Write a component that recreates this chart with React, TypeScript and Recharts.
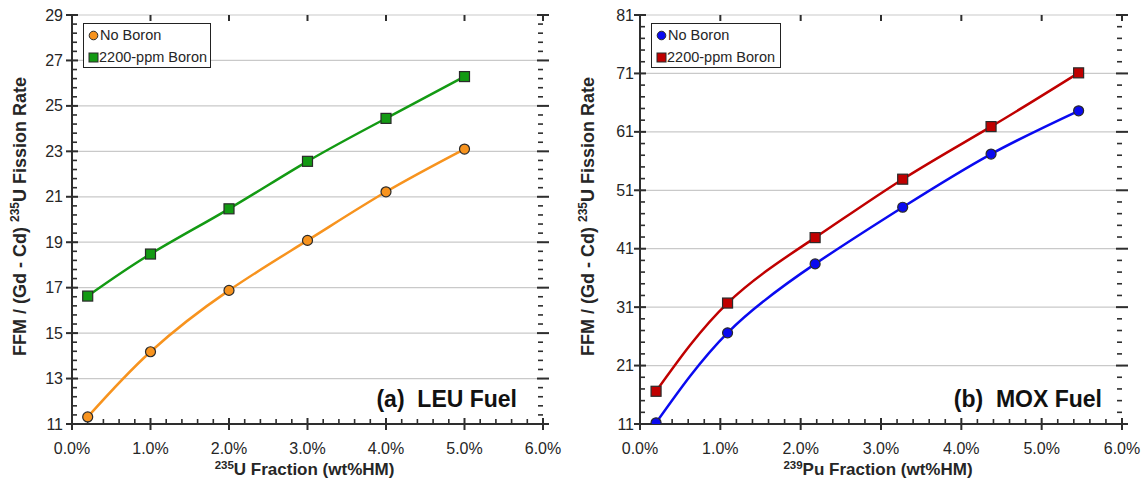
import React from 'react';
import { ComposedChart, Line, XAxis, YAxis, CartesianGrid, Legend, ReferenceDot } from 'recharts';

// ---------- data ----------
const leuX = [0.2, 1.0, 2.0, 3.0, 4.0, 5.0];
const leuNoBoron = [11.31, 14.18, 16.88, 19.08, 21.22, 23.1];
const leuBoron = [16.63, 18.48, 20.47, 22.56, 24.45, 26.29];

const moxX = [0.2, 1.09, 2.18, 3.27, 4.37, 5.46];
const moxNoBoron = [11.2, 26.6, 38.4, 48.1, 57.2, 64.6];
const moxBoron = [16.6, 31.7, 42.9, 52.9, 61.9, 71.1];

const xMajorTicks = [0, 1, 2, 3, 4, 5, 6];
const leuYMajorTicks = [11, 13, 15, 17, 19, 21, 23, 25, 27, 29];
const moxYMajorTicks = [11, 21, 31, 41, 51, 61, 71, 81];

const seriesNames = ['No Boron', '2200-ppm Boron'];

// ---------- style ----------
const FONT = '"Liberation Sans", Arial, Helvetica, sans-serif';
const AXIS = '#2e2e2e';
const TEXT = '#262626';
const GRID = '#c9c9c9';

const leuColors = { a: '#f7931e', b: '#139a13' };
const moxColors = { a: '#0a0af0', b: '#c00000' };

const withMinor = (major: number[], parts: number) => {
  const out: number[] = [];
  for (let i = 0; i < major.length - 1; i++) {
    const step = (major[i + 1] - major[i]) / parts;
    for (let k = 0; k < parts; k++) out.push(Math.round((major[i] + step * k) * 1000) / 1000);
  }
  out.push(major[major.length - 1]);
  return out;
};

const isIn = (v: number, arr: number[]) => arr.some((m) => Math.abs(m - v) < 1e-6);

const makeRows = (xs: number[], a: number[], b: number[]) =>
  xs.map((x, i) => ({ x, a: a[i], b: b[i] }));

const leuData = makeRows(leuX, leuNoBoron, leuBoron);
const moxData = makeRows(moxX, moxNoBoron, moxBoron);

const MAJ_W = 2;
const MIN_W = 1.6;

// ---------- tick labels (axis ticks) ----------
const bottomTick = (props: any) => {
  const x = Number(props.x);
  const y = Number(props.y);
  const v = props.payload.value;
  if (!isIn(v, xMajorTicks)) return <g key={`bt${props.index}`} />;
  return (
    <g key={`bt${props.index}`}>
      <text x={x} y={y + 30} textAnchor="middle" fontFamily={FONT} fontSize={16} fill={TEXT}>
        {`${v.toFixed(1)}%`}
      </text>
    </g>
  );
};

const makeLeftTick = (major: number[], gap: number) => (props: any) => {
  const x = Number(props.x);
  const y = Number(props.y);
  const v = props.payload.value;
  if (!isIn(v, major)) return <g key={`lt${props.index}`} />;
  return (
    <g key={`lt${props.index}`}>
      <text x={x - gap} y={y + 5.5} textAnchor="end" fontFamily={FONT} fontSize={16} fill={TEXT}>
        {String(v)}
      </text>
    </g>
  );
};

// ---------- tick marks (reference dots placed by the chart scales) ----------
const bottomMark = (major: boolean) => (s: any) =>
  major ? (
    <rect x={s.cx - MAJ_W / 2} y={s.cy - 6} width={MAJ_W} height={12} fill={AXIS} />
  ) : (
    <rect x={s.cx - MIN_W / 2} y={s.cy - 5} width={MIN_W} height={5} fill={AXIS} />
  );
const topMark = () => (s: any) => <rect x={s.cx - MAJ_W / 2} y={s.cy} width={MAJ_W} height={6} fill={AXIS} />;
const leftMark = (major: boolean) => (s: any) =>
  major ? (
    <rect x={s.cx - 6} y={s.cy - MAJ_W / 2} width={12} height={MAJ_W} fill={AXIS} />
  ) : (
    <rect x={s.cx} y={s.cy - MIN_W / 2} width={5} height={MIN_W} fill={AXIS} />
  );
const rightMark = (major: boolean) => (s: any) =>
  major ? (
    <rect x={s.cx - 6} y={s.cy - MAJ_W / 2} width={12} height={MAJ_W} fill={AXIS} />
  ) : (
    <rect x={s.cx - 5} y={s.cy - MIN_W / 2} width={5} height={MIN_W} fill={AXIS} />
  );

// ---------- titles ----------
const YTitle = (props: any) => {
  const vb = props.viewBox;
  const cx = vb.x + vb.width - 46;
  const cy = vb.y + vb.height / 2 - 3;
  return (
    <text
      transform={`translate(${cx},${cy}) rotate(-90)`}
      textAnchor="middle"
      fontFamily={FONT}
      fontWeight="bold"
      fontSize={18}
      fill={TEXT}
    >
      {'FFM / (Gd - Cd) '}
      <tspan fontSize={12} dy={-7}>235</tspan>
      <tspan dy={7}>U Fission Rate</tspan>
    </text>
  );
};

const makeXTitle = (sup: string, rest: string) => (props: any) => {
  const vb = props.viewBox;
  const cx = vb.x + vb.width / 2 - 3;
  const cy = vb.y + 51;
  return (
    <text x={cx} y={cy} textAnchor="middle" fontFamily={FONT} fontWeight="bold" fontSize={17} fill={TEXT}>
      <tspan fontSize={11.5} dy={-6}>{sup}</tspan>
      <tspan dy={6}>{rest}</tspan>
    </text>
  );
};

// ---------- markers ----------
const circleDot = (fill: string) => (p: any) => (
  <circle key={`c${p.index}`} cx={p.cx} cy={p.cy} r={5} fill={fill} stroke="#2a2a2a" strokeWidth={1.2} />
);
const squareDot = (fill: string) => (p: any) => (
  <rect key={`s${p.index}`} x={p.cx - 5} y={p.cy - 5} width={10} height={10} fill={fill} stroke="#2a2a2a" strokeWidth={1.2} />
);

const makeLegend = (colA: string, colB: string, w: number) => () => (
  <div
    style={{
      border: '1.5px solid #222',
      background: '#fff',
      boxSizing: 'border-box',
      width: w,
      height: 45,
      padding: '0 0 0 4px',
      fontFamily: FONT,
      fontSize: 14.5,
      color: TEXT,
      lineHeight: '22px',
    }}
  >
    <div style={{ display: 'flex', alignItems: 'center', height: 22 }}>
      <svg width={11} height={11} style={{ marginRight: 1 }}>
        <circle cx={5.5} cy={5.5} r={4.3} fill={colA} stroke="#2a2a2a" strokeWidth={1} />
      </svg>
      <span>{seriesNames[0]}</span>
    </div>
    <div style={{ display: 'flex', alignItems: 'center', height: 22 }}>
      <svg width={11} height={11} style={{ marginRight: 0 }}>
        <rect x={1} y={1} width={9} height={9} fill={colB} stroke="#2a2a2a" strokeWidth={1} />
      </svg>
      <span>{seriesNames[1]}</span>
    </div>
  </div>
);

type PanelProps = {
  data: any[];
  width: number;
  yWidth: number;
  rightMargin: number;
  yMajor: number[];
  colors: { a: string; b: string };
  sup: string;
  xRest: string;
  labelGap: number;
  panel: string;
  panelRight: number;
  legendWidth: number;
};

const Panel = (p: PanelProps) => {
  const xTicks = withMinor(xMajorTicks, 5);
  const yTicks = withMinor(p.yMajor, 5);
  const yMin = p.yMajor[0];
  const yMax = p.yMajor[p.yMajor.length - 1];
  const xMin = xMajorTicks[0];
  const xMax = xMajorTicks[xMajorTicks.length - 1];
  const domainY: [number, number] = [yMin, yMax];
  return (
    <div style={{ position: 'relative', width: p.width, height: 486 }}>
      <ComposedChart width={p.width} height={486} data={p.data} margin={{ top: 15, right: p.rightMargin, left: 0, bottom: 0 }}>
        <CartesianGrid horizontal vertical={false} horizontalValues={p.yMajor} stroke={GRID} strokeWidth={1.2} />
        <XAxis
          dataKey="x"
          type="number"
          domain={[xMin, xMax]}
          ticks={xTicks}
          interval={0}
          height={62}
          tickSize={0}
          tickMargin={0}
          tickLine={false}
          tick={bottomTick}
          axisLine={{ stroke: AXIS, strokeWidth: 2 }}
          allowDataOverflow
          label={{ content: makeXTitle(p.sup, p.xRest) } as any}
        />
        <XAxis
          xAxisId="top"
          dataKey="x"
          orientation="top"
          type="number"
          domain={[xMin, xMax]}
          ticks={xMajorTicks}
          height={0}
          tick={false}
          tickLine={false}
          axisLine={{ stroke: AXIS, strokeWidth: 2 }}
          allowDataOverflow
        />
        <YAxis
          type="number"
          domain={domainY}
          ticks={yTicks}
          interval={0}
          width={p.yWidth}
          tickSize={0}
          tickMargin={0}
          tickLine={false}
          tick={makeLeftTick(p.yMajor, p.labelGap)}
          axisLine={{ stroke: AXIS, strokeWidth: 2 }}
          allowDataOverflow
          label={{ content: YTitle } as any}
        />
        <YAxis
          yAxisId="right"
          orientation="right"
          type="number"
          domain={domainY}
          ticks={p.yMajor}
          width={0}
          tick={false}
          tickLine={false}
          axisLine={{ stroke: AXIS, strokeWidth: 2 }}
          allowDataOverflow
        />
        <Legend
          layout="vertical"
          align="center"
          verticalAlign="middle"
          content={makeLegend(p.colors.a, p.colors.b, p.legendWidth)}
          wrapperStyle={{ position: 'absolute', left: p.yWidth + 11, top: 23, width: 'auto', height: 'auto' }}
        />
        {xTicks.map((v) => (
          <ReferenceDot key={`mb${v}`} x={v} y={yMin} ifOverflow="visible" shape={bottomMark(isIn(v, xMajorTicks))} />
        ))}
        {xMajorTicks.map((v) => (
          <ReferenceDot key={`mt${v}`} x={v} y={yMax} ifOverflow="visible" shape={topMark()} />
        ))}
        {yTicks.map((v) => (
          <ReferenceDot key={`ml${v}`} x={xMin} y={v} ifOverflow="visible" shape={leftMark(isIn(v, p.yMajor))} />
        ))}
        {yTicks.map((v) => (
          <ReferenceDot key={`mr${v}`} x={xMax} y={v} ifOverflow="visible" shape={rightMark(isIn(v, p.yMajor))} />
        ))}
        <Line
          dataKey="a"
          name={seriesNames[0]}
          type="natural"
          stroke={p.colors.a}
          strokeWidth={2.5}
          dot={circleDot(p.colors.a)}
          activeDot={false}
          isAnimationActive={false}
        />
        <Line
          dataKey="b"
          name={seriesNames[1]}
          type="natural"
          stroke={p.colors.b}
          strokeWidth={2.5}
          dot={squareDot(p.colors.b)}
          activeDot={false}
          isAnimationActive={false}
        />
      </ComposedChart>
      <div
        style={{
          position: 'absolute',
          right: p.panelRight,
          top: 388,
          fontFamily: FONT,
          fontWeight: 'bold',
          fontSize: 23,
          lineHeight: '23px',
          color: '#111',
          whiteSpace: 'pre',
        }}
      >
        {p.panel}
      </div>
    </div>
  );
};

export default function App() {
  return (
    <div style={{ position: 'absolute', left: 0, top: 0, width: 1145, height: 486, background: '#fff', display: 'flex' }}>
      <Panel
        data={leuData}
        width={572}
        yWidth={72}
        rightMargin={29}
        yMajor={leuYMajorTicks}
        colors={leuColors}
        sup="235"
        xRest="U Fraction (wt%HM)"
        labelGap={9}
        panel="(a)  LEU Fuel"
        panelRight={572 - 517}
        legendWidth={128}
      />
      <Panel
        data={moxData}
        width={573}
        yWidth={68}
        rightMargin={23}
        yMajor={moxYMajorTicks}
        colors={moxColors}
        sup="239"
        xRest="Pu Fraction (wt%HM)"
        labelGap={6}
        panel="(b)  MOX Fuel"
        panelRight={573 - 1102 + 572}
        legendWidth={130}
      />
    </div>
  );
}
